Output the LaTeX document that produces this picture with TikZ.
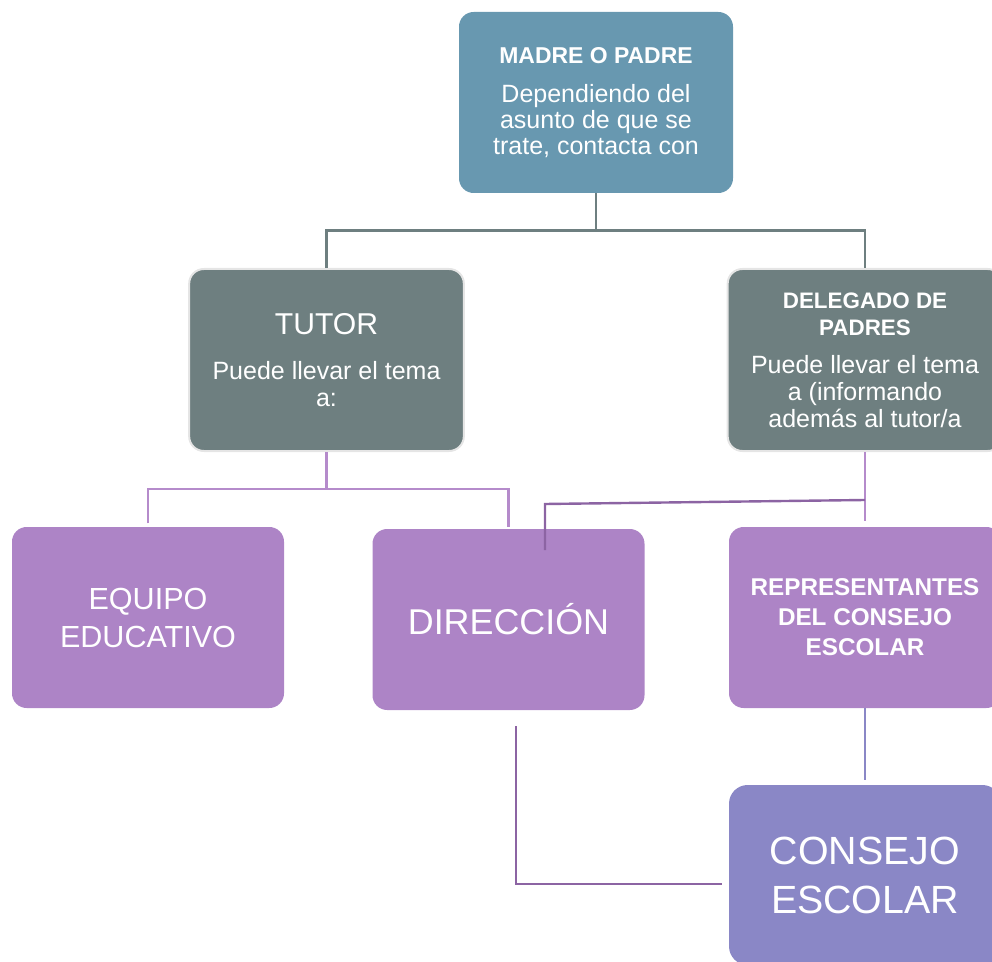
\documentclass[tikz,border=0pt]{standalone}
\usepackage{fontspec}
\setmainfont{Liberation Sans}
\usepackage{tikz}
\definecolor{madre}{HTML}{6898B0}
\definecolor{gris}{HTML}{6E7F80}
\definecolor{lila}{HTML}{AD84C6}
\definecolor{malva}{HTML}{8A87C6}
\definecolor{lilaline}{HTML}{B58BCB}
\definecolor{morado}{HTML}{8C64A3}
\tikzset{M/.style={rectangle, rounded corners=11pt, fill=madre, text=white, align=center, minimum width=205.5pt, minimum height=135.75pt, font=\fontsize{18.75}{19.5}\selectfont}}
\tikzset{G/.style={rectangle, rounded corners=11pt, draw=black!10, line width=1.5pt, fill=gris, text=white, align=center, minimum width=206pt, minimum height=136.5pt, font=\fontsize{18.75}{20.25}\selectfont}}
\tikzset{P/.style={rectangle, rounded corners=11pt, fill=lila, text=white, align=center, minimum width=204pt, minimum height=135.75pt}}
\tikzset{C/.style={rectangle, rounded corners=14pt, fill=malva, text=white, align=center, minimum width=204pt, minimum height=135pt}}
\tikzset{gl/.style={draw=gris, line width=2pt}}
\tikzset{pl/.style={draw=lilaline, line width=1.6pt}}
\tikzset{dl/.style={draw=morado, line width=1.8pt}}
\tikzset{bl/.style={draw=malva, line width=1.8pt}}

\begin{document}
\begin{tikzpicture}[x=0.75pt, y=-0.75pt]
            \clip (0,0) rectangle (992,962);
            \node[M] (madre) at (596,102.5)
                {{\bfseries\fontsize{17.2}{19.5}\selectfont MADRE O PADRE}\\[9.5pt]
                 Dependiendo del\\ asunto de que se\\ trate, contacta con};
            \node[G] (tutor) at (326.5,360)
                {{\fontsize{22.6}{20.25}\selectfont TUTOR}\\[13pt]
                 Puede llevar el tema\\ a:};
            \node[G] (delegado) at (865,360)
                {{\bfseries\fontsize{16.8}{20.25}\selectfont DELEGADO DE}\\
                 {\bfseries\fontsize{16.8}{20.25}\selectfont PADRES}\\[8.5pt]
                 Puede llevar el tema\\ a (informando\\ además al tutor/a};
            \node[P, font=\fontsize{22.9}{28.5}\selectfont] (equipo) at (148,617.5)
                {EQUIPO\\ EDUCATIVO};
            \node[P, font=\fontsize{26.9}{30}\selectfont] (direccion) at (508.5,619.5)
                {DIRECCIÓN};
            \node[P, font=\bfseries\fontsize{18.2}{22.5}\selectfont] (repres) at (865,617.5)
                {REPRESENTANTES\\ DEL CONSEJO\\ ESCOLAR};
            \node[C, font=\fontsize{29.5}{36.75}\selectfont] (consejo) at (865,875)
                {CONSEJO\\ ESCOLAR};
            % madre o padre
            \draw[gl] (madre.south) -- ++(0,37) coordinate (m1);
            \draw[gl] (tutor.north) |- (m1) -| (delegado.north);
            % tutor
            \draw[pl] (tutor.south) -- ++(0,37) coordinate (t1);
            \draw[pl] ([yshift=2.5pt]equipo.north) |- (t1) -| ([yshift=1.5pt]direccion.north);
            % delegado
            \draw[pl] (delegado.south) -- ([yshift=4pt]repres.north);
            \draw[dl] ([yshift=-36pt]delegado.south) -- ++(-320,4) -- ++(0,46);
            \draw[bl] (repres.south) -- ([yshift=3.75pt]consejo.north);
            % direccion
            \draw[dl] ([xshift=5.6pt,yshift=-12pt]direccion.south) |- ([xshift=-5.25pt,yshift=-6.75pt]consejo.west);
        \end{tikzpicture}
\end{document}
